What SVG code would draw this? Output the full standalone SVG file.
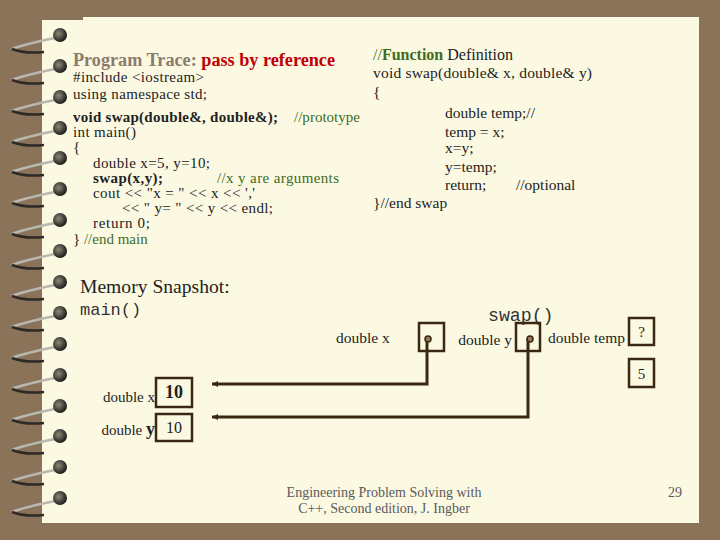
<svg xmlns="http://www.w3.org/2000/svg" width="720" height="540" viewBox="0 0 720 540">
<defs>
<style>
.t{font-family:"Liberation Serif","Times New Roman",serif;fill:#222;}
.c{font-size:15px;}
.g{fill:#3f6b1f;}
.b{font-weight:bold;}
.m{font-family:"Liberation Mono","Courier New",monospace;fill:#333;}
.box{fill:none;stroke:#3b2810;stroke-width:2.5;}
.wire{fill:none;stroke:#3b2810;stroke-width:3;}
.dot{fill:#9c7658;stroke:#3b2810;stroke-width:1.5;}
.foot{font-family:"Liberation Serif","Times New Roman",serif;fill:#5a5a5a;font-size:14px;}
</style>
<radialGradient id="hole" cx="0.4" cy="0.4" r="0.6">
<stop offset="0" stop-color="#8a8a7a"/>
<stop offset="1" stop-color="#1e1e1a"/>
</radialGradient>
<g id="ring">
<path d="M55 3 C40 6 22 10 12 14" fill="none" stroke="#b8b8b0" stroke-width="2.5"/>
<path d="M12 14 C22 18 34 18 44 17" fill="none" stroke="#2e2a26" stroke-width="2.5"/>
<circle cx="60" cy="0" r="7" fill="url(#hole)"/>
</g>
<marker id="ah" markerWidth="8" markerHeight="8" refX="1" refY="4" orient="auto" markerUnits="userSpaceOnUse">
<path d="M7 1 L1 4 L7 7 Z" fill="#3b2810"/>
</marker>
</defs>
<rect width="720" height="540" fill="#8b735a"/>
<rect x="42" y="20" width="657" height="503" fill="#fcf9e3"/>
<rect x="83" y="17" width="616" height="4" fill="#fcf9e3"/>
<g id="rings">
<use href="#ring" y="35"/><use href="#ring" y="66"/><use href="#ring" y="97"/><use href="#ring" y="128"/>
<use href="#ring" y="158"/><use href="#ring" y="189"/><use href="#ring" y="220"/><use href="#ring" y="251"/>
<use href="#ring" y="282"/><use href="#ring" y="313"/><use href="#ring" y="344"/><use href="#ring" y="375"/>
<use href="#ring" y="406"/><use href="#ring" y="436"/><use href="#ring" y="467"/><use href="#ring" y="498"/>
</g>
<g id="main-code" class="t c">
<text x="73" y="66" class="b" style="font-size:18.2px"><tspan fill="#8c7b6b">Program Trace: </tspan><tspan fill="#c00000">pass by reference</tspan></text>
<text x="73" y="82" textLength="131" lengthAdjust="spacing">#include &lt;iostream&gt;</text>
<text x="73" y="99" textLength="134" lengthAdjust="spacing">using namespace std;</text>
<text x="73" y="122" class="b" textLength="205" lengthAdjust="spacing">void swap(double&amp;, double&amp;);</text>
<text x="294" y="122" class="g" textLength="66" lengthAdjust="spacing">//prototype</text>
<text x="73" y="137" textLength="63" lengthAdjust="spacing">int main()</text>
<text x="73" y="152">{</text>
<text x="93" y="168" textLength="117" lengthAdjust="spacing">double x=5, y=10;</text>
<text x="93" y="183" class="b" textLength="70" lengthAdjust="spacing">swap(x,y);</text>
<text x="217" y="183" class="g" textLength="122" lengthAdjust="spacing">//x y are arguments</text>
<text x="93" y="198" textLength="162" lengthAdjust="spacing">cout &lt;&lt; "x = " &lt;&lt; x &lt;&lt; ','</text>
<text x="122" y="213" textLength="151" lengthAdjust="spacing">&lt;&lt; " y= " &lt;&lt; y &lt;&lt; endl;</text>
<text x="93" y="228" textLength="57" lengthAdjust="spacing">return 0;</text>
<text x="73" y="244">} <tspan class="g">//end main</tspan></text>
</g>
<g id="swap-code" class="t" style="font-size:15.5px">
<text x="373" y="60" style="font-size:16px"><tspan class="g">//</tspan><tspan class="g b">Function</tspan> Definition</text>
<text x="373" y="78" textLength="219" lengthAdjust="spacing">void swap(double&amp; x, double&amp; y)</text>
<text x="373" y="97">{</text>
<text x="445" y="118">double temp;//</text>
<text x="445" y="137">temp = x;</text>
<text x="445" y="153">x=y;</text>
<text x="445" y="172">y=temp;</text>
<text x="445" y="190">return;</text>
<text x="516" y="190">//optional</text>
<text x="373" y="208">}//end swap</text>
</g>
<g id="snapshot-title">
<text x="80" y="293" class="t" style="font-size:19.6px">Memory Snapshot:</text>
<text x="80" y="315" class="m" style="font-size:17px">main()</text>
</g>
<g id="main-x">
<text x="155" y="402" class="t" style="font-size:15px" text-anchor="end">double x</text>
<rect x="156" y="378" width="36" height="29" class="box"/>
<text x="174" y="398" class="t b" style="font-size:18px" text-anchor="middle">10</text>
</g>
<g id="main-y">
<text x="155" y="435" class="t" style="font-size:15px" text-anchor="end">double <tspan class="b" style="font-size:18px">y</tspan></text>
<rect x="156" y="414" width="36" height="27" class="box"/>
<text x="174" y="433" class="t" style="font-size:16px" text-anchor="middle">10</text>
</g>
<g id="swap-frame">
<text x="488" y="321" class="m" style="font-size:18.2px">swap()</text>
</g>
<g id="swap-x">
<text x="336" y="343" class="t" style="font-size:15.5px">double x</text>
<rect x="419" y="323" width="25" height="28" class="box"/>
</g>
<g id="swap-y">
<text x="512" y="345" class="t" style="font-size:15.5px" text-anchor="end">double y</text>
<rect x="516" y="323" width="24" height="28" class="box"/>
</g>
<g id="swap-temp">
<text x="548" y="343" class="t" style="font-size:15.5px">double temp</text>
<rect x="629" y="318" width="25" height="27" class="box"/>
<text x="641.5" y="337" class="t" style="font-size:15px" text-anchor="middle">?</text>
</g>
<g id="swap-temp-value">
<rect x="629" y="359" width="25" height="28" class="box"/>
<text x="641.5" y="379" class="t" style="font-size:15px" text-anchor="middle">5</text>
</g>
<g id="connectors">
<polyline points="212,384 427,384 427,339" class="wire" marker-start="url(#ah)"/>
<polyline points="212,417 528,417 528,339" class="wire" marker-start="url(#ah)"/>
<circle cx="428" cy="339" r="3" class="dot"/>
<circle cx="530" cy="339" r="3" class="dot"/>
</g>
<g id="footer">
<text x="384" y="497" class="foot" text-anchor="middle">Engineering Problem Solving with</text>
<text x="384" y="513" class="foot" text-anchor="middle">C++, Second edition, J. Ingber</text>
<text x="682" y="497" class="foot" text-anchor="end">29</text>
</g>
</svg>
